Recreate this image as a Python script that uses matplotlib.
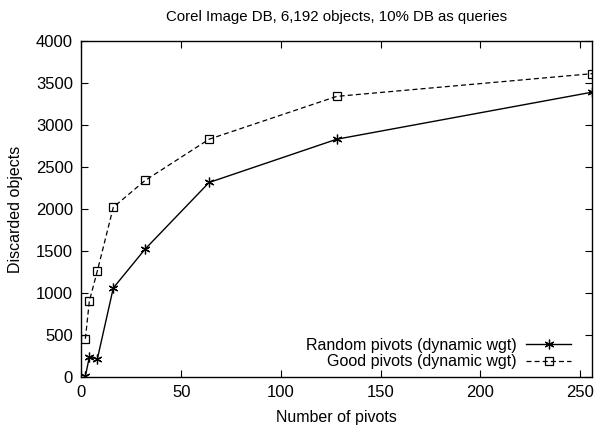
import matplotlib
matplotlib.use('Agg')
import matplotlib.pyplot as plt

plt.rcParams['font.family'] = ['Liberation Sans', 'DejaVu Sans']

pivots = [2, 4, 8, 16, 32, 64, 128, 256]
random_wgt = [10, 238, 214, 1060, 1524, 2315, 2830, 3390]
good_wgt = [455, 905, 1262, 2020, 2340, 2830, 3340, 3610]

fig = plt.figure(figsize=(5.94, 4.26), dpi=100)
ax = fig.add_axes([0.137, 0.115, 0.860, 0.789])

ax.plot(pivots, random_wgt, color='black', lw=1, marker=(6, 2, 0), ms=7,
        mew=0.9, label='Random pivots (dynamic wgt)')
ax.plot(pivots, good_wgt, color='black', lw=0.9, dashes=(4, 2.5), marker='s', ms=5.5,
        mfc='none', mew=0.9, label='Good pivots (dynamic wgt)')

ax.set_xlim(0, 256)
ax.set_ylim(0, 4000)
ax.set_xticks([0, 50, 100, 150, 200, 250])
ax.set_yticks(range(0, 4001, 500))
ax.tick_params(direction='in', top=True, right=True, length=5, labelsize=12, pad=6)
for s in ax.spines.values():
    s.set_linewidth(1)

ax.set_title('Corel Image DB, 6,192 objects, 10% DB as queries', fontsize=10.8, pad=14)
ax.set_xlabel('Number of pivots', fontsize=11.5, labelpad=7)
ax.set_ylabel('Discarded objects', fontsize=11.5, labelpad=9)

ax.legend(loc='lower right', frameon=False, markerfirst=False, fontsize=11.5,
          handlelength=2.8, borderaxespad=0.6, labelspacing=0.12, handletextpad=0.62,
          bbox_to_anchor=(0.99, -0.025))

fig.savefig('out.png', dpi=100)
